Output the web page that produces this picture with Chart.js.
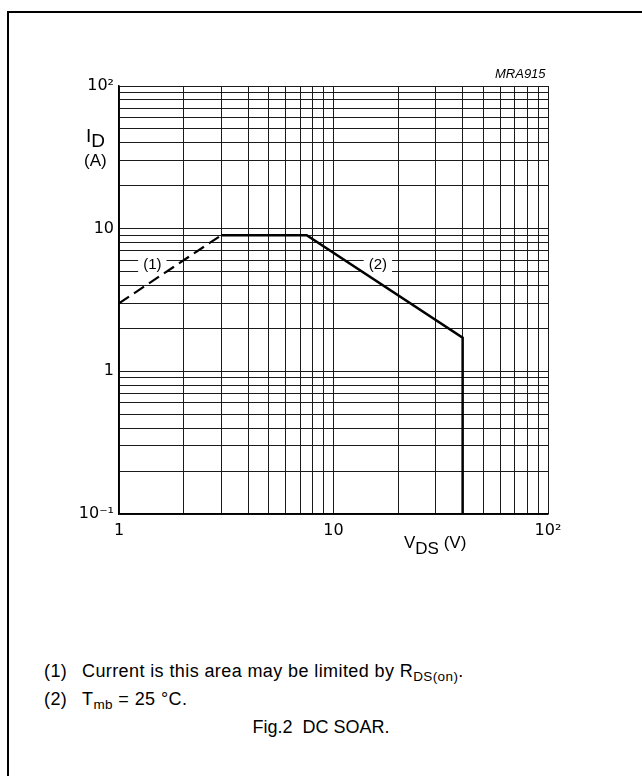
<!DOCTYPE html>
<html><head><meta charset="utf-8">
<script src="https://cdn.jsdelivr.net/npm/chart.js@4.4.1/dist/chart.umd.min.js"></script>
<style>
html,body{margin:0;padding:0;background:#fff;width:642px;height:776px;overflow:hidden;font-family:"Liberation Sans",Arial,Helvetica,sans-serif;color:#000}
#frame{position:absolute;left:7px;top:11px;width:700px;height:820px;border-left:2px solid #000;border-top:2px solid #000}
#c{position:absolute;left:0;top:0}
.t{position:absolute;white-space:nowrap;line-height:1}
.sub{font-size:0.75em;position:relative;top:0.3em}
.note{font-size:18px;letter-spacing:0.4px}
</style></head><body>
<div id="frame"></div>
<canvas id="c" width="642" height="576"></canvas>
<div class="t" style="left:495px;top:67px;font-size:13px;font-style:italic">MRA915</div>
<div class="t" style="left:86px;top:126px;font-size:19px">I<span style="position:relative;top:5px">D</span></div>
<div class="t" style="left:84px;top:152px;font-size:17px">(A)</div>
<div class="t" style="left:404px;top:534px;font-size:17px">V<span style="position:relative;top:6px">DS</span> (V)</div>
<div class="t note" style="left:44px;top:662px">(1)</div>
<div class="t note" style="left:82px;top:662px">Current is this area may be limited by R<span class="sub">DS(on)</span>.</div>
<div class="t note" style="left:44px;top:690px">(2)</div>
<div class="t note" style="left:82px;top:690px">T<span class="sub">mb</span> = 25 °C.</div>
<div class="t" style="left:0;width:642px;text-align:center;top:718px;font-size:18px">Fig.2&nbsp; DC SOAR.</div>
<script>
// ---- data ----
const limitV = [1, 3];            // (1) R_DS(on) limited region, V_DS (V)
const limitI = [3, 9];            // I_D (A)
const soarV  = [3, 7.5, 40, 40];  // (2) DC SOAR boundary, V_DS (V)
const soarI  = [9, 9, 1.72, 0.1]; // I_D (A)
const xGrid = [1,2,3,4,5,6,7,8,9,10,20,30,40,50,60,70,80,90,100];
const yGrid = [0.1,0.2,0.3,0.4,0.5,0.6,0.7,0.8,0.9,1,2,3,4,5,6,7,8,9,10,20,30,40,50,60,70,80,90,100];
const xTickLabels = {1:'1', 10:'10', 100:'10\u00B2'};
const yTickLabels = {0.1:'10\u207B\u00B9', 1:'1', 10:'10', 100:'10\u00B2'};
const curveLabels = ['(1)', '(2)'];
const curveLabelV = [1.43, 16.1];
const curveLabelI = [5.6, 5.6];

const toPts = (xs, ys) => xs.map((x, i) => ({x: x, y: ys[i]}));

const labelPlugin = {
  id: 'curveLabels',
  beforeDatasetsDraw(chart) {
    const ctx = chart.ctx, xs = chart.scales.x, ys = chart.scales.y;
    ctx.save();
    ctx.font = '15px "Liberation Sans", Arial, sans-serif';
    ctx.textAlign = 'center';
    ctx.textBaseline = 'middle';
    curveLabels.forEach((t, i) => {
      const px = xs.getPixelForValue(curveLabelV[i]);
      const py = ys.getPixelForValue(curveLabelI[i]);
      const w = ctx.measureText(t).width + 10;
      ctx.fillStyle = '#fff';
      ctx.fillRect(px - w/2, py - 8, w, 16);
      ctx.fillStyle = '#000';
      ctx.fillText(t, px, py);
    });
    ctx.restore();
  }
};

const tickFont = {family: '"DejaVu Sans", "Liberation Sans", Arial, sans-serif', size: 16};

new Chart(document.getElementById('c'), {
  type: 'line',
  data: {
    datasets: [
      {data: toPts(limitV, limitI), borderColor: '#000', borderWidth: 2.2, borderDash: [12, 6], pointRadius: 0, fill: false, tension: 0},
      {data: toPts(soarV, soarI), borderColor: '#000', borderWidth: 2.5, pointRadius: 0, fill: false, tension: 0}
    ]
  },
  options: {
    responsive: false,
    animation: false,
    devicePixelRatio: 1,
    layout: {padding: {left: 0, right: 94, top: 86, bottom: 32}},
    plugins: {legend: {display: false}, tooltip: {enabled: false}},
    scales: {
      x: {
        type: 'logarithmic', min: 1, max: 100,
        afterBuildTicks(s) { s.ticks = xGrid.map(v => ({value: v})); },
        afterFit(s) { s.height = 30; },
        ticks: {autoSkip: false, maxRotation: 0, padding: 7, color: '#000', font: tickFont,
          callback: v => xTickLabels[v] || ''},
        grid: {color: '#1a1a1a', lineWidth: 1, drawTicks: false},
        border: {color: '#000', width: 1.5}
      },
      y: {
        type: 'logarithmic', min: 0.1, max: 100,
        afterBuildTicks(s) { s.ticks = yGrid.map(v => ({value: v})); },
        afterFit(s) { s.width = 119; },
        ticks: {autoSkip: false, padding: 5, color: '#000', font: tickFont,
          callback: v => yTickLabels[v] || ''},
        grid: {color: '#1a1a1a', lineWidth: 1, drawTicks: false},
        border: {color: '#000', width: 1.5}
      }
    }
  },
  plugins: [labelPlugin]
});
</script>
</body></html>
